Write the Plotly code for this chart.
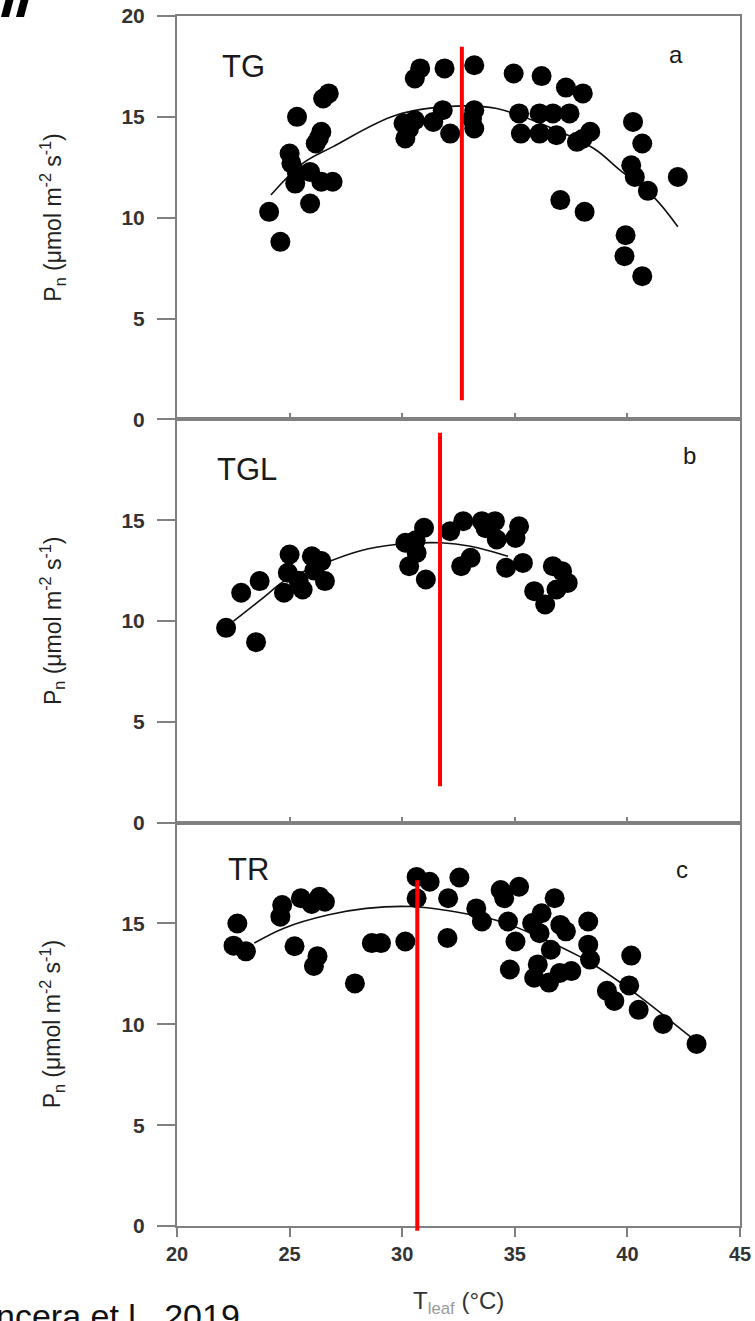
import plotly.graph_objects as go

# ---------------- data ----------------
panel_names = ["TG", "TGL", "TR"]
panel_letters = ["a", "b", "c"]

tg_x = [24.09, 24.59, 25.33, 25.00, 25.08, 25.33, 25.25, 25.91, 25.91, 26.41, 26.91, 26.16, 26.41, 26.30,
        26.49, 26.74, 30.14, 30.06, 30.56, 30.30, 30.56, 30.80, 31.88, 31.38, 31.80, 32.13, 33.20, 33.20,
        33.20, 33.10, 34.95, 36.19, 37.27, 38.02, 35.19, 36.10, 36.69, 37.43, 35.27, 36.10, 36.85, 37.76,
        38.35, 38.00, 37.02, 38.10, 40.25, 40.66, 40.17, 40.33, 40.91, 42.24, 39.92, 39.87, 40.66]
tg_y = [10.29, 8.80, 15.00, 13.18, 12.69, 12.19, 11.69, 12.27, 10.70, 11.78, 11.78, 13.68, 14.26, 13.95,
        15.91, 16.16, 13.93, 14.67, 14.83, 14.40, 16.90, 17.40, 17.40, 14.75, 15.33, 14.17, 17.56, 15.33,
        14.42, 14.90, 17.15, 17.02, 16.45, 16.16, 15.17, 15.17, 15.17, 15.17, 14.17, 14.17, 14.09, 13.76,
        14.26, 13.90, 10.87, 10.29, 14.75, 13.68, 12.60, 12.02, 11.33, 12.02, 9.13, 8.09, 7.10]

tgl_x = [22.18, 23.51, 22.85, 23.67, 25.00, 25.99, 24.92, 24.75, 25.58, 26.41, 26.57, 25.40, 26.10,
         30.97, 30.14, 30.64, 30.31, 31.05, 30.60, 32.13, 32.71, 33.54, 34.12, 35.19, 34.20, 35.03,
         32.62, 33.04, 34.61, 35.36, 35.86, 36.35, 36.69, 37.10, 37.35, 36.85, 33.70]
tgl_y = [9.66, 8.95, 11.40, 11.98, 13.30, 13.21, 12.39, 11.40, 11.56, 12.97, 11.98, 12.00, 12.50,
         14.62, 13.88, 13.38, 12.72, 12.06, 14.00, 14.45, 14.95, 14.95, 14.95, 14.70, 14.04, 14.12,
         12.72, 13.13, 12.64, 12.88, 11.48, 10.82, 12.72, 12.47, 11.89, 11.56, 14.60]

tr_x = [22.68, 22.51, 23.06, 24.67, 24.59, 25.50, 26.33, 26.57, 25.98, 25.22, 26.24, 26.08, 27.90,
        28.65, 29.06, 30.14, 30.64, 31.22, 32.54, 30.64, 32.04, 32.01, 33.29, 33.54, 34.37, 35.19,
        34.53, 34.70, 35.03, 34.78, 36.77, 36.19, 35.77, 36.10, 37.02, 37.27, 36.60, 38.26, 38.26,
        38.34, 36.02, 35.86, 36.52, 37.51, 37.00, 40.17, 39.09, 39.42, 40.08, 40.50, 41.58, 43.07]
tr_y = [15.00, 13.90, 13.62, 15.92, 15.34, 16.25, 16.33, 16.08, 15.97, 13.87, 13.38, 12.89, 12.03,
        14.03, 14.03, 14.11, 17.31, 17.07, 17.28, 16.25, 16.25, 14.28, 15.75, 15.10, 16.66, 16.82,
        16.25, 15.10, 14.11, 12.72, 16.25, 15.51, 15.02, 14.52, 14.93, 14.61, 13.70, 15.10, 13.95,
        13.21, 12.97, 12.31, 12.07, 12.64, 12.55, 13.41, 11.66, 11.16, 11.93, 10.72, 10.02, 9.03]

# fitted curves
fit_tg_x = [24.17, 25.58, 26.91, 29.72, 32.38, 34.20, 36.52, 38.51, 39.67, 41.16, 42.24]
fit_tg_y = [11.12, 12.69, 13.51, 15.08, 15.53, 15.41, 14.50, 13.43, 12.36, 11.03, 9.55]
fit_tgl_x = [22.51, 23.92, 24.75, 26.41, 28.07, 29.72, 31.71, 33.04, 34.70]
fit_tgl_y = [9.99, 11.23, 11.98, 12.80, 13.46, 13.79, 13.88, 13.71, 13.21]
fit_tr_x = [23.43, 24.75, 26.74, 28.40, 30.39, 32.71, 34.37, 36.02, 37.85, 38.84, 40.50, 42.82]
fit_tr_y = [14.03, 14.77, 15.43, 15.75, 15.84, 15.51, 15.10, 14.36, 13.38, 12.72, 11.41, 9.36]

# red vertical marker lines
red_x = [32.65, 31.68, 30.67]
red_y0 = [0.95, 1.80, -0.23]
red_y1 = [18.47, 19.33, 17.15]

x_ticks = [20, 25, 30, 35, 40, 45]
y_ticks_top = [0, 5, 10, 15, 20]
y_ticks = [0, 5, 10, 15]

# ---------------- figure ----------------
W, H = 755, 1321
ML, MR, MT, MB = 177, 15, 16, 95
plot_w = W - ML - MR
plot_h = H - MT - MB

domains = [[2 / 3, 1.0], [1 / 3, 2 / 3], [0.0, 1 / 3]]
FONT = "Liberation Sans, Arial, sans-serif"
AXC = "#808080"

pts = [(tg_x, tg_y), (tgl_x, tgl_y), (tr_x, tr_y)]
fits = [(fit_tg_x, fit_tg_y), (fit_tgl_x, fit_tgl_y), (fit_tr_x, fit_tr_y)]

fig = go.Figure()
for i in range(3):
    xa = "x" if i == 0 else f"x{i+1}"
    ya = "y" if i == 0 else f"y{i+1}"
    fx, fy = fits[i]
    fig.add_trace(go.Scatter(x=fx, y=fy, xaxis=xa, yaxis=ya, mode="lines",
                             line=dict(color="#111", width=1.6, shape="spline"),
                             showlegend=False, hoverinfo="skip"))
    px, py = pts[i]
    fig.add_trace(go.Scatter(x=px, y=py, xaxis=xa, yaxis=ya, mode="markers",
                             marker=dict(color="black", size=20, line=dict(width=0)),
                             showlegend=False))

layout = dict(width=W, height=H, margin=dict(l=ML, r=MR, t=MT, b=MB, pad=0, autoexpand=False),
              paper_bgcolor="white", plot_bgcolor="white",
              font=dict(family=FONT, color="#222"), showlegend=False)

for i in range(3):
    xk = "xaxis" if i == 0 else f"xaxis{i+1}"
    yk = "yaxis" if i == 0 else f"yaxis{i+1}"
    ya = "y" if i == 0 else f"y{i+1}"
    xa = "x" if i == 0 else f"x{i+1}"
    last = i == 2
    layout[xk] = dict(domain=[0, 1], anchor=ya, range=[20, 45], tickvals=x_ticks,
                      showline=True, mirror=True, linecolor=AXC, linewidth=2,
                      showgrid=False, zeroline=False, automargin=False,
                      ticks="outside" if last else "inside", ticklen=9 if last else 6,
                      tickcolor=AXC, tickwidth=1.5,
                      showticklabels=last,
                      tickfont=dict(size=20, color="#333", family=FONT, weight="bold"))
    layout[yk] = dict(domain=domains[i], anchor=xa, range=[0, 20],
                      tickvals=y_ticks_top if i == 0 else y_ticks,
                      showline=True, mirror=True, linecolor=AXC, linewidth=2,
                      showgrid=False, zeroline=False, automargin=False,
                      ticks="outside", ticklen=18,
                      tickcolor=AXC, tickwidth=1.5, ticklabelstandoff=8,
                      tickfont=dict(size=21, color="#333", family=FONT, weight="bold"))

fig.update_layout(**layout)

def ypaper(i, v):
    d0, d1 = domains[i]
    return d0 + (v / 20.0) * (d1 - d0)

ann = []
shapes = []
name_x = [21.91, 21.69, 22.18]
name_y = [17.5, 17.5, 17.67]
letter_x = [42.16, 42.76, 42.42]
letter_y = [18.09, 18.2, 17.69]
for i in range(3):
    xa = "x" if i == 0 else f"x{i+1}"
    ya = "y" if i == 0 else f"y{i+1}"
    ann.append(dict(x=name_x[i], y=name_y[i], xref=xa, yref=ya, text=panel_names[i],
                    showarrow=False, xanchor="left", yanchor="middle",
                    font=dict(size=31, color="#1a1a1a", family=FONT)))
    ann.append(dict(x=letter_x[i], y=letter_y[i], xref=xa, yref=ya, text=panel_letters[i],
                    showarrow=False, xanchor="center", yanchor="middle",
                    font=dict(size=24, color="#1a1a1a", family=FONT)))
    ann.append(dict(x=(52 - ML) / plot_w, y=(domains[i][0] + domains[i][1]) / 2,
                    xref="paper", yref="paper",
                    text="P<sub>n</sub> (μmol m<sup>-2</sup> s<sup>-1</sup>)",
                    textangle=-90, showarrow=False, xanchor="center", yanchor="middle",
                    font=dict(size=23, color="#222", family=FONT)))
    shapes.append(dict(type="line", xref=xa, yref="paper",
                       x0=red_x[i], x1=red_x[i], y0=ypaper(i, red_y0[i]), y1=ypaper(i, red_y1[i]),
                       line=dict(color="#ff0000", width=4)))

# x-axis title
ann.append(dict(x=0.5, y=(H - MB - 1302) / plot_h, xref="paper", yref="paper",
                text="T<sub><span style='color:#999'>leaf</span></sub> (°C)",
                showarrow=False, xanchor="center", yanchor="middle",
                font=dict(size=24, color="#333", family=FONT)))

# clipped citation text at the bottom left
ann.append(dict(x=(-6 - ML) / plot_w, y=(H - MB - 1329) / plot_h, xref="paper", yref="paper",
                text="ncera et l., 2019", showarrow=False, xanchor="left", yanchor="bottom",
                yshift=-8, font=dict(size=34, color="#111", family=FONT)))

# clipped heavy slanted glyphs at the top left
def pp(px, py):
    return f"{(px - ML) / plot_w:.5f},{(H - MB - py) / plot_h:.5f}"

for (tx0, tx1, bx0, bx1) in [(6, 14, 1, 9), (21, 29, 16, 24)]:
    path = f"M {pp(tx0, -2)} L {pp(tx1, -2)} L {pp(bx1, 17)} L {pp(bx0, 17)} Z"
    shapes.append(dict(type="path", xref="paper", yref="paper", path=path,
                       fillcolor="black", line=dict(width=0)))

fig.update_layout(annotations=ann, shapes=shapes)
fig.write_html("out.html")
